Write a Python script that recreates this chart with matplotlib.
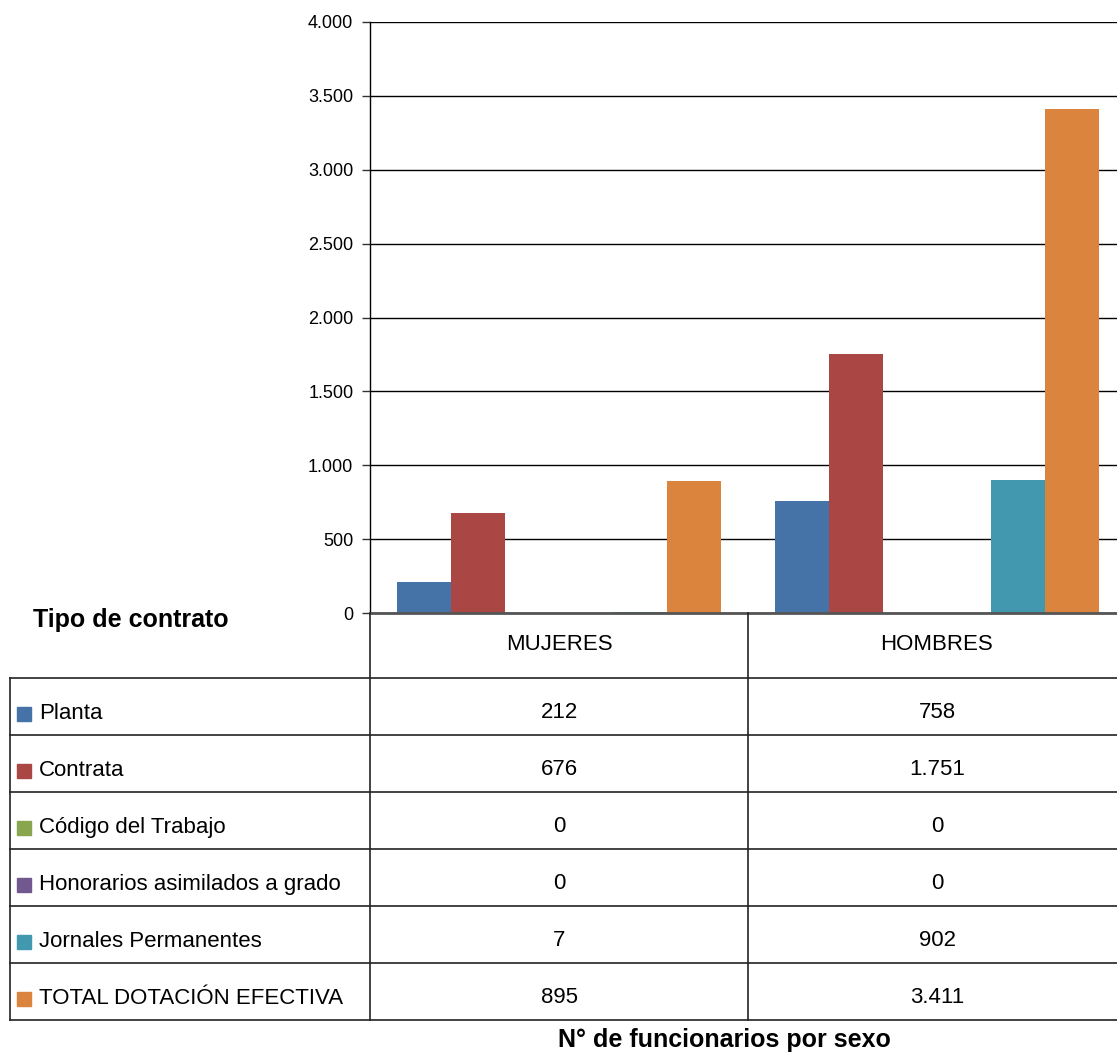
import matplotlib
matplotlib.use("Agg")
import matplotlib.pyplot as plt
from matplotlib.ticker import FuncFormatter

# data
categories = ["MUJERES", "HOMBRES"]
series_names = ["Planta", "Contrata", "Código del Trabajo",
                "Honorarios asimilados a grado", "Jornales Permanentes",
                "TOTAL DOTACIÓN EFECTIVA"]
mujeres = [212, 676, 0, 0, 7, 895]
hombres = [758, 1751, 0, 0, 902, 3411]
colors = ["#4572A7", "#AA4643", "#89A54E", "#71588F", "#4198AF", "#DB843D"]
y_ticks = [0, 500, 1000, 1500, 2000, 2500, 3000, 3500, 4000]

plt.rcParams['font.family'] = ['Liberation Sans', 'DejaVu Sans']

W, H = 1117, 1055
fig = plt.figure(figsize=(W / 100, H / 100), dpi=100)

# the plot area runs a little past the right edge of the picture
ax_left, ax_right, ax_top, ax_bottom = 370, 1126, 22, 613
ax = fig.add_axes([ax_left / W, 1 - ax_bottom / H,
                   (ax_right - ax_left) / W, (ax_bottom - ax_top) / H])

bar_w = 0.1429
values = [mujeres, hombres]
for i, name in enumerate(series_names):
    xs = [c + (i - 2.5) * bar_w for c in range(len(categories))]
    hs = [values[c][i] for c in range(len(categories))]
    ax.bar(xs, hs, width=bar_w, color=colors[i], zorder=3)

ax.set_xlim(-0.5, 1.5)
ax.set_ylim(0, 4000)
ax.set_yticks(y_ticks)
ax.yaxis.set_major_formatter(FuncFormatter(lambda v, p: f"{int(v):,}".replace(",", ".")))
ax.tick_params(axis='y', labelsize=13, length=6, width=1, color="#333333", pad=6)
ax.set_xticks([])
ax.grid(axis='y', color="black", linewidth=1, zorder=0)
for s in ["top", "right"]:
    ax.spines[s].set_visible(False)
ax.spines["left"].set_linewidth(1)
ax.spines["bottom"].set_color("#555555")
ax.spines["bottom"].set_linewidth(2)
ax.spines["bottom"].set_zorder(4)

# data table drawn under the chart, in pixel coordinates
tax = fig.add_axes([0, 0, 1, 1])
tax.set_xlim(0, W)
tax.set_ylim(H, 0)
tax.axis("off")

col_x = [370, 748, 1126]
head_top, head_bot = 613, 678
row_h = 57
n_rows = len(series_names)
table_bot = head_bot + n_rows * row_h
line_kw = dict(color="#222222", linewidth=1.2)

tax.plot([370, 370], [head_top, table_bot], **line_kw)
tax.plot([748, 748], [head_top, table_bot], **line_kw)
tax.plot([10, 10], [head_bot, table_bot], **line_kw)
for r in range(n_rows + 1):
    y = head_bot + r * row_h
    tax.plot([10, W], [y, y], **line_kw)

for c, cat in enumerate(categories):
    cx = (col_x[c] + col_x[c + 1]) / 2
    tax.text(cx, (head_top + head_bot) / 2 - 1, cat, ha="center", va="center", fontsize=16)

for r, name in enumerate(series_names):
    cy = head_bot + r * row_h + row_h / 2 + 7
    tax.add_patch(plt.Rectangle((17, cy - 7), 14, 14, color=colors[r]))
    tax.text(39, cy, name, ha="left", va="center", fontsize=16)
    for c in range(len(categories)):
        cx = (col_x[c] + col_x[c + 1]) / 2
        v = values[c][r]
        tax.text(cx, cy - 1, f"{v:,}".replace(",", "."), ha="center", va="center", fontsize=16)

tax.text(33, 620, "Tipo de contrato", ha="left", va="center", fontsize=18,
         fontweight="bold")
tax.text(724, 1040, "N° de funcionarios por sexo", ha="center", va="center", fontsize=18,
         fontweight="bold")

fig.savefig("out.png", dpi=100)
